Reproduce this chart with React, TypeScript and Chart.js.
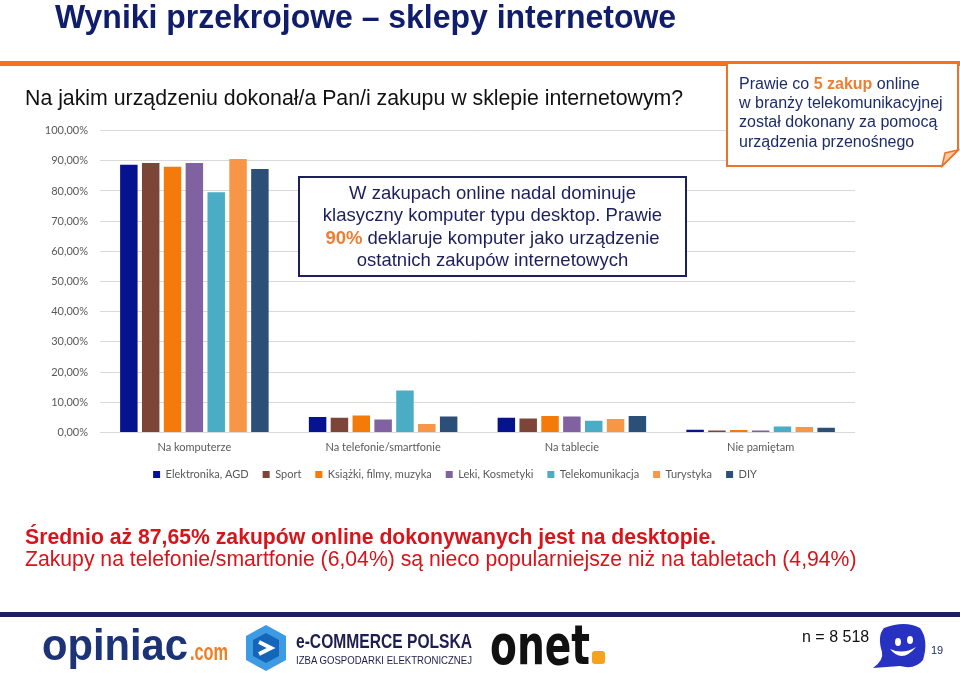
import React, { useEffect, useRef } from "react";
import { Chart, registerables } from "chart.js";
Chart.register(...registerables);

const categories = ["Na komputerze", "Na telefonie/smartfonie", "Na tablecie", "Nie pamiętam"];
const seriesNames = [
  "Elektronika, AGD",
  "Sport",
  "Książki, filmy, muzyka",
  "Leki, Kosmetyki",
  "Telekomunikacja",
  "Turystyka",
  "DIY",
];
const elektronika = [88.7, 5.1, 4.9, 0.9];
const sport = [89.3, 4.9, 4.6, 0.7];
const ksiazki = [88.0, 5.6, 5.5, 0.8];
const leki = [89.3, 4.3, 5.3, 0.7];
const telekomunikacja = [79.6, 13.9, 3.9, 2.0];
const turystyka = [90.6, 2.8, 4.5, 1.8];
const diy = [87.3, 5.3, 5.5, 1.6];
const seriesValues = [elektronika, sport, ksiazki, leki, telekomunikacja, turystyka, diy];
const seriesColors = ["#06138f", "#7c4538", "#f47a0a", "#8062a0", "#4bacc6", "#f79646", "#2c4f78"];
const yMin = 0;
const yMax = 100;
const yStep = 10;

const TXT = "'Liberation Sans', Arial, sans-serif";
const TICK_FONT = "Lato, 'Open Sans', sans-serif";

// centre the legend under the whole chart object (as in the source slide)
const legendShift = {
  id: "legendShift",
  afterLayout(chart: any) {
    if (chart.legend) {
      chart.legend.left += 17.5;
      chart.legend.right += 17.5;
    }
  },
};

function BarChart() {
  const ref = useRef<HTMLCanvasElement | null>(null);
  useEffect(() => {
    if (!ref.current) return;
    const chart = new Chart(ref.current, {
      type: "bar",
      data: {
        labels: categories,
        datasets: seriesValues.map((d, i) => ({
          label: seriesNames[i],
          data: d,
          backgroundColor: seriesColors[i],
          borderWidth: 0,
          categoryPercentage: 0.81,
          barPercentage: 0.8,
        })),
      },
      plugins: [legendShift],
      options: {
        animation: false,
        responsive: false,
        maintainAspectRatio: false,
        layout: { padding: { left: 0, right: 35, top: 6.5, bottom: 0 } },
        plugins: {
          legend: {
            position: "bottom",
            labels: {
              boxWidth: 7,
              boxHeight: 7,
              padding: 14,
              color: "#595959",
              font: { family: TICK_FONT, size: 11 },
            },
          },
          tooltip: { enabled: false },
        },
        scales: {
          x: {
            afterFit: (s: any) => {
              s.height = 22.5;
            },
            grid: { display: false, drawTicks: false },
            border: { display: false },
            ticks: { color: "#595959", font: { family: TICK_FONT, size: 11 }, padding: 8.5 },
          },
          y: {
            min: yMin,
            max: yMax,
            afterFit: (s: any) => {
              s.width = 80;
            },
            grid: { color: "#d9d9d9", drawTicks: false },
            border: { display: false },
            ticks: {
              stepSize: yStep,
              padding: 12,
              color: "#595959",
              font: { family: TICK_FONT, size: 11 },
              callback: (v: any) => Number(v).toFixed(2).replace(".", ",") + "%",
            },
          },
        },
      },
    });
    return () => chart.destroy();
  }, []);
  return (
    <canvas
      ref={ref}
      width={870}
      height={378}
      style={{ position: "absolute", left: 20, top: 112, width: 870, height: 378 }}
    />
  );
}

function T(props: { x: number; base: number; fs: number; children: any; style?: any }) {
  const { x, base, fs, children, style } = props;
  return (
    <div
      style={{
        position: "absolute",
        left: x,
        top: base - 0.8465 * fs,
        fontSize: fs,
        lineHeight: 1,
        whiteSpace: "nowrap",
        fontFamily: TXT,
        ...style,
      }}
    >
      {children}
    </div>
  );
}

export default function App() {
  const navy = "#1b1f5c";
  const orange = "#ee7326";
  return (
    <div
      style={{
        position: "fixed",
        left: 0,
        top: 0,
        width: 960,
        height: 673,
        background: "#ffffff",
        overflow: "hidden",
      }}
    >
      <BarChart />
      <svg
        width={960}
        height={673}
        style={{ position: "absolute", left: 0, top: 0, pointerEvents: "none" }}
      >
        <rect x={0} y={61} width={960} height={5} fill={orange} />
        <path d="M727,63 H958 V150 L942,166 H727 Z" fill="#ffffff" stroke={orange} strokeWidth={2} />
        <path d="M958,150 L942,166 L945,153 Z" fill="#f9c9a3" stroke={orange} strokeWidth={1.5} />
        <rect x={299} y={177} width={387} height={99} fill="#ffffff" stroke={navy} strokeWidth={2} />
        <rect x={0} y={612} width={960} height={5} fill="#1e2060" />
        {/* opiniac.com */}
        <text x={42} y={660} fontSize={44} fontWeight="bold" fill="#1c3477" fontFamily={TXT} textLength={146} lengthAdjust="spacingAndGlyphs">opiniac</text>
        <text x={190} y={660} fontSize={24} fontWeight="bold" fill="#ef7d22" fontFamily={TXT} textLength={38} lengthAdjust="spacingAndGlyphs">.com</text>
        {/* e-commerce icon */}
        <polygon points="266,625 286,636 286,660 266,671 246,660 246,636" fill="#3c9be2" />
        <polygon points="266,633 279,640 279,656 266,663 253,656 253,640" fill="#1565b8" />
        <path d="M259,642 L271,648 L259,654" fill="none" stroke="#ffffff" strokeWidth={4} />
        <text x={296} y={648} fontSize={20} fontWeight="bold" fill="#1d1d4f" fontFamily={TXT} textLength={176} lengthAdjust="spacingAndGlyphs">e-COMMERCE POLSKA</text>
        <text x={296} y={664} fontSize={11} fill="#1d1d4f" fontFamily={TXT} textLength={176} lengthAdjust="spacingAndGlyphs">IZBA GOSPODARKI ELEKTRONICZNEJ</text>
        {/* onet */}
        <text x={490} y={664} fontSize={56} fontWeight="900" fill="#111111" fontFamily="'DejaVu Sans', sans-serif" textLength={100} lengthAdjust="spacingAndGlyphs">onet</text>
        <rect x={592} y={651} width={13} height={13} rx={3} fill="#f6a21d" />
        {/* n */}
        <text x={802} y={642} fontSize={16} fill="#111111" fontFamily={TXT}>n = 8 518</text>
        {/* bubble */}
        <path d="M884,628 Q905,620 920,628 Q929,640 923,660 Q915,670 900,666 L873,668 Q884,660 882,652 Q877,636 884,628 Z" fill="#2832c2" />
        <ellipse cx={898} cy={642} rx={3} ry={4} fill="#ffffff" />
        <ellipse cx={910} cy={640} rx={3} ry={4} fill="#ffffff" />
        <path d="M890,649 Q902,664 916,647 Q903,655 890,649 Z" fill="#ffffff" />
        <text x={931} y={654} fontSize={11} fill="#1f2a6b" fontFamily={TXT}>19</text>
      </svg>

      <T
        x={55}
        base={27.5}
        fs={34}
        style={{
          fontWeight: "bold",
          color: "#0f1d6b",
          transform: "scaleX(0.94)",
          transformOrigin: "0 0",
        }}
      >
        Wyniki przekrojowe – sklepy internetowe
      </T>
      <T x={25} base={105.6} fs={21.3} style={{ color: "#111111" }}>
        Na jakim urządzeniu dokonał/a Pan/i zakupu w sklepie internetowym?
      </T>

      <T x={739} base={89.5} fs={16} style={{ color: "#1d2d6b" }}>
        Prawie co <b style={{ color: "#ef7d32" }}>5 zakup</b> online
      </T>
      <T x={739} base={108.5} fs={16} style={{ color: "#1d2d6b" }}>w branży telekomunikacyjnej</T>
      <T x={739} base={127.5} fs={16} style={{ color: "#1d2d6b" }}>został dokonany za pomocą</T>
      <T x={739} base={147.5} fs={16} style={{ color: "#1d2d6b" }}>urządzenia przenośnego</T>

      {[
        <>W zakupach online nadal dominuje</>,
        <>klasyczny komputer typu desktop. Prawie</>,
        <>
          <b style={{ color: "#ef7d32" }}>90%</b> deklaruje komputer jako urządzenie
        </>,
        <>ostatnich zakupów internetowych</>,
      ].map((c, i) => (
        <div
          key={i}
          style={{
            position: "absolute",
            left: 299,
            width: 387,
            textAlign: "center",
            top: 199.6 + i * 22.4 - 0.8465 * 18.5,
            fontSize: 18.5,
            lineHeight: 1,
            whiteSpace: "nowrap",
            fontFamily: TXT,
            color: "#1c1f5c",
          }}
        >
          {c}
        </div>
      ))}

      <T x={25} base={543.5} fs={21.2} style={{ color: "#d7141a", fontWeight: "bold" }}>
        Średnio aż 87,65% zakupów online dokonywanych jest na desktopie.
      </T>
      <T x={25} base={565.5} fs={21.2} style={{ color: "#d7141a" }}>
        Zakupy na telefonie/smartfonie (6,04%) są nieco popularniejsze niż na tabletach (4,94%)
      </T>
    </div>
  );
}
